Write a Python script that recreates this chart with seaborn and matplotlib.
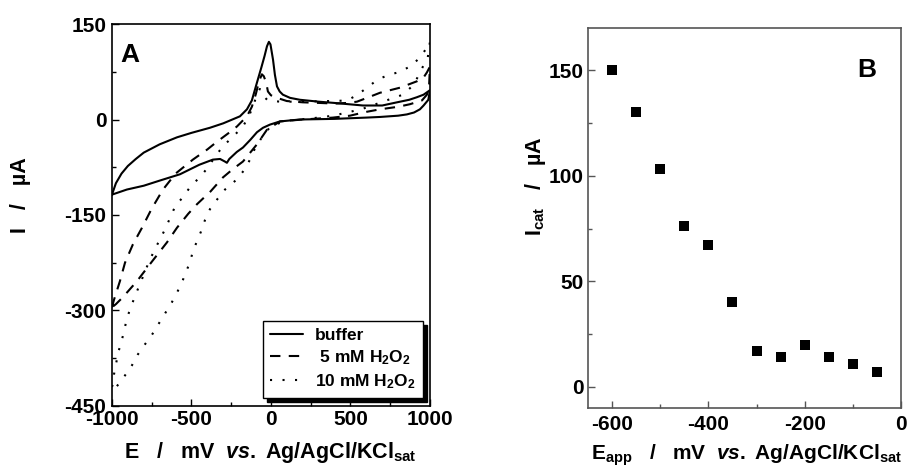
import seaborn as sns
import matplotlib.pyplot as plt
import pandas as pd
from matplotlib.ticker import MultipleLocator

# ---- panel A: cyclic voltammograms (anodic sweep -1000 -> 1000, then back) ----
E_buffer = [-1000, -975, -940, -900, -850, -800, -700, -591, -500, -384, -300, -195, -151, -120, -88,
            -60, -40, -25, -13, -3, 13, 25, 38, 55, 75, 120, 182, 300, 400, 579, 700, 793, 870, 918,
            960, 1000,
            990, 960, 937, 900, 855, 800, 686, 600, 400, 182, 57, -6, -50, -88, -130, -176, -215,
            -245, -262, -277, -290, -320, -365, -450, -572, -700, -800, -906, -1000]
I_buffer = [-118, -100, -85, -73, -62, -52, -39, -28, -21, -13, -6, 5, 16, 30, 58,
            82, 100, 115, 122, 118, 94, 70, 52, 44, 39, 34, 31, 28, 26, 22, 22, 27, 31, 35,
            39, 46,
            31, 22, 16, 11, 8, 6, 4, 3, 1, 0, -3, -8, -13, -20, -32, -44, -51,
            -58, -62, -68, -66, -62, -63, -71, -86, -96, -104, -110, -118]

E_5mM = [-1000, -987, -950, -918, -868, -811, -750, -679, -600, -491, -400, -340, -270, -214, -151,
         -120, -95, -75, -57, -45, -30, -19, 0, 38, 100, 200, 308, 400, 478, 541, 604, 686, 812,
         918, 960, 981, 1000,
         995, 981, 950, 874, 800, 686, 600, 497, 390, 200, 57, -25, -88, -176, -240, -302, -380,
         -465, -520, -591, -654, -748, -843, -931, -975, -1000]
I_5mM = [-295, -283, -254, -225, -196, -170, -140, -110, -85, -63, -47, -35, -22, -11, 5,
         20, 40, 60, 71, 68, 58, 44, 38, 34, 29, 27, 26, 25, 26, 28, 34, 42, 50,
         60, 66, 74, 83,
         55, 39, 30, 24, 20, 16, 12, 6, 3, 0, -3, -16, -39, -66, -78, -91, -113,
         -133, -148, -170, -193, -223, -254, -279, -290, -295]

E_10mM = [-1000, -994, -987, -975, -962, -944, -925, -912, -893, -868, -843, -792, -767, -730, -698,
          -667, -600, -553, -500, -447, -396, -350, -302, -239, -176, -140, -113, -90, -70, -55,
          -40, -20, 57, 200, 350, 400, 478, 540, 604, 673, 740, 799, 874, 937, 981, 1000,
          985, 968, 937, 900, 830, 704, 579, 497, 390, 300, 100, 0, -57, -100, -132, -164, -214,
          -289, -340, -384, -415, -440, -465, -491, -509, -535, -560, -591, -623, -667, -704,
          -748, -792, -837, -874, -918, -969, -1000]
I_10mM = [-420, -416, -400, -385, -367, -352, -334, -319, -303, -286, -270, -239, -223, -204, -188,
          -173, -135, -122, -103, -91, -75, -58, -42, -27, -11, 5, 20, 38, 48, 45,
          35, 30, 28, 28, 29, 29, 30, 38, 50, 63, 70, 74, 83, 97, 113, 122,
          95, 89, 74, 55, 39, 28, 17, 12, 6, 3, -2, -10, -28, -45, -63, -78, -94,
          -110, -126, -141, -158, -176, -191, -207, -224, -240, -256, -272, -287, -305, -320,
          -338, -353, -369, -386, -402, -419, -420]

cv_labels = ['buffer', ' 5 mM H$_2$O$_2$', '10 mM H$_2$O$_2$']

# ---- panel B: catalytic current vs applied potential ----
E_app = [-600, -550, -500, -450, -400, -350, -300, -250, -200, -150, -100, -50]
I_cat = [150, 130, 103, 76, 67, 40, 17, 14, 20, 14, 11, 7]

sns.set_style("white")
plt.rcParams['font.family'] = ['Liberation Sans', 'DejaVu Sans']
plt.rcParams['font.weight'] = 'bold'
plt.rcParams['axes.unicode_minus'] = False
plt.rcParams['text.color'] = 'black'
plt.rcParams['axes.labelcolor'] = 'black'
plt.rcParams['xtick.color'] = 'black'
plt.rcParams['ytick.color'] = 'black'
plt.rcParams['mathtext.fontset'] = 'custom'
plt.rcParams['mathtext.rm'] = 'Liberation Sans:bold'
plt.rcParams['mathtext.bf'] = 'Liberation Sans:bold'
plt.rcParams['mathtext.it'] = 'Liberation Sans:italic:bold'
plt.rcParams['mathtext.default'] = 'rm'

fig = plt.figure(figsize=(9.08, 4.68), dpi=100)
axA = fig.add_axes([0.1233, 0.1325, 0.3502, 0.8162])
axB = fig.add_axes([0.6476, 0.1282, 0.3447, 0.8120])

styles = ['-', (0, (5, 4)), (0, (1, 5))]
curves = [(E_buffer, I_buffer), (E_5mM, I_5mM), (E_10mM, I_10mM)]
for (E, I), ls, lab in zip(curves, styles, cv_labels):
    df = pd.DataFrame({'E': E, 'I': I})
    sns.lineplot(data=df, x='E', y='I', sort=False, estimator=None, ax=axA,
                 color='black', linestyle=ls, linewidth=1.5, label=lab)

axA.set_xlim(-1000, 1000)
axA.set_ylim(-450, 150)
axA.xaxis.set_major_locator(MultipleLocator(500))
axA.xaxis.set_minor_locator(MultipleLocator(250))
axA.yaxis.set_major_locator(MultipleLocator(150))
axA.yaxis.set_minor_locator(MultipleLocator(75))
axA.tick_params(which='both', direction='in', labelsize=15, color='black',
                bottom=True, left=True, top=False, right=False, labelcolor='black')
axA.tick_params(which='major', length=5, width=1)
axA.tick_params(which='minor', length=3, width=1)
axA.tick_params(axis='x', pad=3)
axA.tick_params(axis='y', pad=4)
for t in axA.get_xticklabels() + axA.get_yticklabels():
    t.set_fontweight('bold')
for sp in axA.spines.values():
    sp.set_color('black')
    sp.set_linewidth(1.2)
axA.set_xlabel('E   /   mV  $\\mathit{vs.}$ Ag/AgCl/KCl$_{\\mathrm{sat}}$', fontsize=15.5, fontweight='bold')
axA.set_ylabel('I   /   µA', fontsize=15.5, fontweight='bold')
axA.xaxis.set_label_coords(0.497, -0.088)
axA.yaxis.set_label_coords(-0.255, 0.552)
axA.text(0.057, 0.919, 'A', transform=axA.transAxes, fontsize=19, fontweight='bold',
         ha='center', va='center')
leg = axA.legend(loc='lower right', bbox_to_anchor=(0.977, 0.022), borderaxespad=0,
                 frameon=True, fancybox=False, edgecolor='black', fontsize=12.5,
                 handlelength=1.9, labelspacing=0.3, borderpad=0.4, handletextpad=0.7,
                 shadow={'color': 'black', 'alpha': 1, 'ox': 3, 'oy': -3})
leg.get_frame().set_linewidth(1.0)
for t in leg.get_texts():
    t.set_fontweight('bold')

dfB = pd.DataFrame({'E_app': E_app, 'I_cat': I_cat})
sns.scatterplot(data=dfB, x='E_app', y='I_cat', ax=axB, marker='s', s=60,
                color='black', edgecolor='black', linewidth=0)
axB.set_xlim(-650, 0)
axB.set_ylim(-10, 170)
axB.xaxis.set_major_locator(MultipleLocator(200))
axB.xaxis.set_minor_locator(MultipleLocator(100))
axB.yaxis.set_major_locator(MultipleLocator(50))
axB.yaxis.set_minor_locator(MultipleLocator(25))
axB.tick_params(which='both', direction='in', labelsize=15, color='#555555',
                bottom=True, left=True, top=False, right=False, labelcolor='black')
axB.tick_params(which='major', length=5, width=1)
axB.tick_params(which='minor', length=3, width=1)
axB.tick_params(axis='x', pad=5)
axB.tick_params(axis='y', pad=3)
for t in axB.get_xticklabels() + axB.get_yticklabels():
    t.set_fontweight('bold')
for sp in axB.spines.values():
    sp.set_color('#555555')
    sp.set_linewidth(1.2)
axB.set_xlabel('E$_{\\mathrm{app}}$   /   mV  $\\mathit{vs.}$ Ag/AgCl/KCl$_{\\mathrm{sat}}$',
               fontsize=15, fontweight='bold')
axB.set_ylabel('I$_{\\mathrm{cat}}$   /   µA', fontsize=15.5, fontweight='bold')
axB.xaxis.set_label_coords(0.505, -0.09)
axB.yaxis.set_label_coords(-0.127, 0.584)
axB.text(0.891, 0.889, 'B', transform=axB.transAxes, fontsize=19, fontweight='bold',
         ha='center', va='center')

fig.savefig('out.png', dpi=100)
